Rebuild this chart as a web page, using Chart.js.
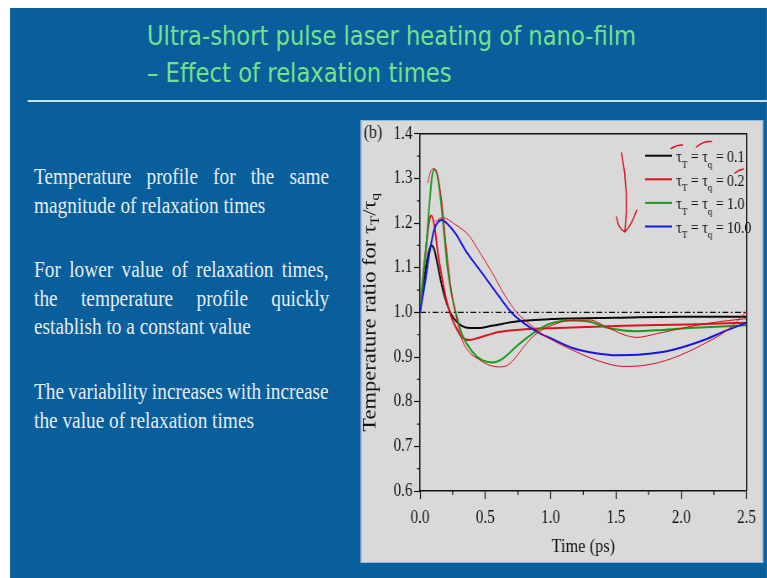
<!DOCTYPE html>
<html>
<head>
<meta charset="utf-8">
<script src="https://cdn.jsdelivr.net/npm/chart.js@4.4.1/dist/chart.umd.min.js"></script>
<style>
  html, body { margin: 0; padding: 0; width: 767px; height: 578px; overflow: hidden; background: #ffffff; }
  /* the slide is laid out 913px wide and drawn narrowed to the 767px window */
  #slide { position: absolute; left: 0; top: 0; width: 913px; height: 578px; transform: scaleX(0.84); transform-origin: 0 0; }
  #bg { position: absolute; left: 12px; top: 8px; right: 0; bottom: 0; background: #095e9c; }
  .title { position: absolute; left: 175px; font-family: 'DejaVu Sans', sans-serif; font-size: 26px; line-height: 26px;
           color: #74e28a; white-space: nowrap; transform-origin: 0 0; }
  #rule { position: absolute; left: 33px; top: 100px; width: 880px; height: 2px; background: #cfe2f5; }
  .para { position: absolute; left: 40.5px; width: 351px; font-family: 'Liberation Serif', serif; font-size: 23px; color: #e4edf6; }
  .ln { height: 28.5px; line-height: 28.5px; white-space: nowrap; }
  .ln span { display: inline-block; white-space: nowrap; }
  #panel { position: absolute; left: 430px; top: 121px; width: 478px; height: 441px; background: #d9d9d9; outline: 1px solid #8fb8de; }
  #chart { position: absolute; left: 0; top: 0; }
</style>
</head>
<body>
<div id="slide">
  <div id="bg"></div>
  <div class="title" id="t1" style="top:23px">Ultra-short pulse laser heating of nano-film</div>
  <div class="title" id="t2" style="top:59.7px">– Effect of relaxation times</div>
  <div id="rule"></div>

  <div class="para" style="top:163px">
    <div class="ln j"><span>Temperature profile for the same</span></div>
    <div class="ln"><span>magnitude of relaxation times</span></div>
  </div>
  <div class="para" style="top:256px">
    <div class="ln j"><span>For lower value of relaxation times,</span></div>
    <div class="ln j"><span>the temperature profile quickly</span></div>
    <div class="ln"><span>establish to a constant value</span></div>
  </div>
  <div class="para" style="top:378px">
    <div class="ln j"><span>The variability increases with increase</span></div>
    <div class="ln"><span>the value of relaxation times</span></div>
  </div>

  <div id="panel"><canvas id="chart" width="478" height="441"></canvas></div>
</div>

<script>
// ---- data: temperature ratio vs time (ps) ----
const tauValues = ['0.1', '0.2', '1.0', '10.0'];
const seriesColors = ['#0a0a0a', '#e0101e', '#1c9a1c', '#1616e0'];

const timeT01  = [0, 0.025, 0.05, 0.07, 0.088, 0.11, 0.136, 0.16, 0.186, 0.224, 0.26, 0.32, 0.38, 0.45, 0.55, 0.75, 1.0, 1.5, 2.0, 2.5];
const ratioT01 = [1.0, 1.06, 1.11, 1.14, 1.15, 1.14, 1.105, 1.07, 1.038, 1.005, 0.986, 0.97, 0.965, 0.965, 0.97, 0.98, 0.985, 0.988, 0.99, 0.99];

const timeT02  = [0, 0.023, 0.048, 0.068, 0.086, 0.11, 0.136, 0.17, 0.2, 0.236, 0.274, 0.32, 0.375, 0.45, 0.6, 0.8, 1.05, 1.56, 2.06, 2.5];
const ratioT02 = [1.0, 1.08, 1.15, 1.2, 1.217, 1.195, 1.135, 1.075, 1.03, 0.993, 0.967, 0.945, 0.938, 0.943, 0.956, 0.962, 0.965, 0.97, 0.973, 0.977];

const timeT1  = [0, 0.023, 0.048, 0.073, 0.093, 0.11, 0.136, 0.161, 0.186, 0.211, 0.244, 0.274, 0.324, 0.4, 0.475, 0.55, 0.626, 0.75, 0.878, 1.0, 1.15, 1.3, 1.46, 1.66, 1.81, 2.06, 2.5];
const ratioT1 = [1.0, 1.074, 1.15, 1.246, 1.306, 1.32, 1.302, 1.246, 1.172, 1.098, 1.037, 1.0, 0.949, 0.912, 0.893, 0.888, 0.895, 0.927, 0.956, 0.975, 0.982, 0.979, 0.964, 0.958, 0.96, 0.965, 0.971];

const timeT10  = [0, 0.035, 0.073, 0.11, 0.148, 0.17, 0.21, 0.274, 0.35, 0.45, 0.6, 0.7, 0.8, 0.9, 1.0, 1.18, 1.36, 1.5, 1.71, 1.93, 2.19, 2.31, 2.5];
const ratioT10 = [1.0, 1.06, 1.134, 1.187, 1.205, 1.207, 1.198, 1.176, 1.138, 1.098, 1.038, 1.0, 0.975, 0.956, 0.942, 0.919, 0.908, 0.904, 0.906, 0.916, 0.94, 0.955, 0.977];

// hand-drawn pen traces over the curves
const timeInkA  = [0.06, 0.08, 0.11, 0.14, 0.17, 0.2, 0.24, 0.27, 0.32, 0.38, 0.45, 0.52, 0.6, 0.65, 0.72, 0.8, 0.88, 1.0, 1.15, 1.3, 1.43, 1.56, 1.66, 1.81, 2.06, 2.31, 2.5];
const ratioInkA = [1.29, 1.315, 1.322, 1.3, 1.24, 1.15, 1.05, 1.0, 0.94, 0.91, 0.895, 0.883, 0.878, 0.879, 0.895, 0.925, 0.95, 0.97, 0.982, 0.983, 0.967, 0.95, 0.944, 0.952, 0.968, 0.98, 0.986];
const timeInkB  = [0.118, 0.17, 0.274, 0.375, 0.45, 0.55, 0.65, 0.74, 0.85, 0.9, 1.0, 1.15, 1.36, 1.56, 1.73, 1.93, 2.19, 2.36, 2.5];
const ratioInkB = [1.203, 1.212, 1.196, 1.172, 1.138, 1.09, 1.038, 1.0, 0.971, 0.958, 0.94, 0.918, 0.892, 0.879, 0.882, 0.897, 0.932, 0.962, 1.002];

// reference level
const timeRef  = [0, 2.5];
const ratioRef = [1.0, 1.0];

const xTicks = { min: 0, max: 2.5, step: 0.5, minor: 0.25 };
const yTicks = { min: 0.6, max: 1.4, step: 0.1, minor: 0.05 };

// ---- slide text fitting ----
function fitTitle(id, width) {
  const el = document.getElementById(id);
  el.style.transform = 'scaleX(' + (width / el.offsetWidth) + ')';
}
fitTitle('t1', 582);
fitTitle('t2', 363);
document.querySelectorAll('.ln.j span').forEach(sp => {
  const gaps = sp.textContent.trim().split(/\s+/).length - 1;
  const extra = (351 - sp.offsetWidth) / gaps;
  sp.style.wordSpacing = extra + 'px';
});

// ---- chart ----
const pts = (xs, ys) => xs.map((x, i) => ({ x: x, y: ys[i] }));
const SERIF = "'Liberation Serif', 'Times New Roman', serif";
const INK = '#d3101e';

const datasets = [
  { data: pts(timeInkA, ratioInkA), borderColor: INK, borderWidth: 1, order: 0 },
  { data: pts(timeInkB, ratioInkB), borderColor: INK, borderWidth: 1, order: 0 },
  { data: pts(timeT01, ratioT01), borderColor: seriesColors[0], borderWidth: 2, order: 4, legendIndex: 0 },
  { data: pts(timeT02, ratioT02), borderColor: seriesColors[1], borderWidth: 2, order: 3, legendIndex: 1 },
  { data: pts(timeT1, ratioT1), borderColor: seriesColors[2], borderWidth: 2, order: 2, legendIndex: 2 },
  { data: pts(timeT10, ratioT10), borderColor: seriesColors[3], borderWidth: 2, order: 1, legendIndex: 3 },
  { data: pts(timeRef, ratioRef), borderColor: '#111111', borderWidth: 1.3, borderDash: [7, 3, 2, 3], order: 5, cubicInterpolationMode: 'default', tension: 0 }
];

// draws text runs with subscripts, advancing along x
function runText(ctx, x, y, parts, mainSize, subSize, subDy) {
  let cx = x;
  parts.forEach(p => {
    const sub = p[1] === 'sub';
    ctx.font = (sub ? subSize : mainSize) + 'px ' + SERIF;
    ctx.fillText(p[0], cx, sub ? y + subDy : y);
    cx += ctx.measureText(p[0]).width;
  });
}
function runWidth(ctx, parts, mainSize, subSize) {
  let w = 0;
  parts.forEach(p => {
    ctx.font = (p[1] === 'sub' ? subSize : mainSize) + 'px ' + SERIF;
    w += ctx.measureText(p[0]).width;
  });
  return w;
}

const decor = {
  id: 'decor',
  afterDraw(chart) {
    const { ctx, chartArea: a, scales: { x, y } } = chart;
    ctx.save();
    ctx.strokeStyle = '#111111';
    ctx.fillStyle = '#111111';

    // frame: top and right edges
    ctx.lineWidth = 1.5;
    ctx.beginPath();
    ctx.moveTo(a.left, a.top);
    ctx.lineTo(a.right, a.top);
    ctx.lineTo(a.right, a.bottom);
    ctx.stroke();

    // minor ticks
    ctx.lineWidth = 1.2;
    ctx.beginPath();
    for (let v = xTicks.minor; v < xTicks.max; v += xTicks.step) {
      const px = x.getPixelForValue(v);
      ctx.moveTo(px, a.bottom); ctx.lineTo(px, a.bottom + 4);
    }
    for (let v = yTicks.min + yTicks.minor; v < yTicks.max; v += yTicks.step) {
      const py = y.getPixelForValue(v);
      ctx.moveTo(a.left, py); ctx.lineTo(a.left - 3.5, py);
    }
    ctx.stroke();

    // panel letter
    ctx.textBaseline = 'middle';
    ctx.textAlign = 'left';
    ctx.font = '19px ' + SERIF;
    ctx.fillText('(b)', 3, 12);

    // y-axis title with subscripts
    const yParts = [['Temperature ratio for \u03C4', 'main'], ['T', 'sub'], ['/\u03C4', 'main'], ['q', 'sub']];
    const yw = runWidth(ctx, yParts, 22.5, 15);
    ctx.save();
    ctx.translate(11, (a.top + a.bottom) / 2);
    ctx.rotate(-Math.PI / 2);
    runText(ctx, -yw / 2, 0, yParts, 22.5, 15, 6);
    ctx.restore();

    // legend
    const lx = 338, lw = 32, ly0 = 34.7, ldy = 23.6;
    chart.data.datasets.forEach(ds => {
      if (ds.legendIndex === undefined) return;
      const i = ds.legendIndex;
      const ly = ly0 + i * ldy;
      ctx.strokeStyle = ds.borderColor;
      ctx.lineWidth = 2;
      ctx.beginPath(); ctx.moveTo(lx, ly); ctx.lineTo(lx + lw, ly); ctx.stroke();
      ctx.fillStyle = '#111111';
      const parts = [['\u03C4', 'main'], ['T', 'sub'], [' = \u03C4', 'main'], ['q', 'sub'], [' = ' + tauValues[i], 'main']];
      runText(ctx, lx + lw + 5, ly + 2, parts, 16.5, 11, 7);
    });

    // pen marks beside the legend
    ctx.strokeStyle = INK;
    ctx.lineWidth = 1.5;
    ctx.lineCap = 'round';
    ctx.beginPath();
    ctx.moveTo(310, 32); ctx.quadraticCurveTo(319, 72, 314, 110);
    ctx.moveTo(304, 96); ctx.quadraticCurveTo(306, 108, 314, 111);
    ctx.quadraticCurveTo(322, 104, 328, 89);
    ctx.moveTo(369, 27.5); ctx.quadraticCurveTo(375, 24, 382.5, 24);
    ctx.moveTo(399, 26); ctx.quadraticCurveTo(407, 20, 417, 20.5);
    ctx.moveTo(445, 52); ctx.quadraticCurveTo(449, 49, 455, 48);
    ctx.stroke();
    ctx.restore();
  }
};

new Chart(document.getElementById('chart'), {
  type: 'line',
  data: { datasets: datasets },
  plugins: [decor],
  options: {
    responsive: false,
    animation: false,
    layout: { padding: { top: 11, right: 12.8, left: 0, bottom: 0 } },
    plugins: { legend: { display: false }, tooltip: { enabled: false } },
    elements: {
      point: { radius: 0 },
      line: { cubicInterpolationMode: 'monotone', fill: false }
    },
    scales: {
      x: {
        type: 'linear', min: xTicks.min, max: xTicks.max,
        afterFit(s) { s.height = 71; },
        ticks: { stepSize: xTicks.step, callback: v => v.toFixed(1), font: { family: SERIF, size: 18 }, color: '#111111', padding: 8, maxRotation: 0, autoSkip: false },
        grid: { drawOnChartArea: false, drawTicks: true, tickLength: 8, tickColor: '#111111', tickWidth: 1.2 },
        border: { color: '#111111', width: 1.5 },
        title: { display: true, text: 'Time (ps)', font: { family: SERIF, size: 19.5 }, color: '#111111', padding: { top: 0, bottom: 3 } }
      },
      y: {
        type: 'linear', min: yTicks.min, max: yTicks.max,
        afterFit(s) { s.width = 70; },
        ticks: { stepSize: yTicks.step, callback: v => v.toFixed(1), font: { family: SERIF, size: 18 }, color: '#111111', padding: 2 },
        grid: { drawOnChartArea: false, drawTicks: true, tickLength: 7, tickColor: '#111111', tickWidth: 1.2 },
        border: { color: '#111111', width: 1.5 }
      }
    }
  }
});
</script>
</body>
</html>
